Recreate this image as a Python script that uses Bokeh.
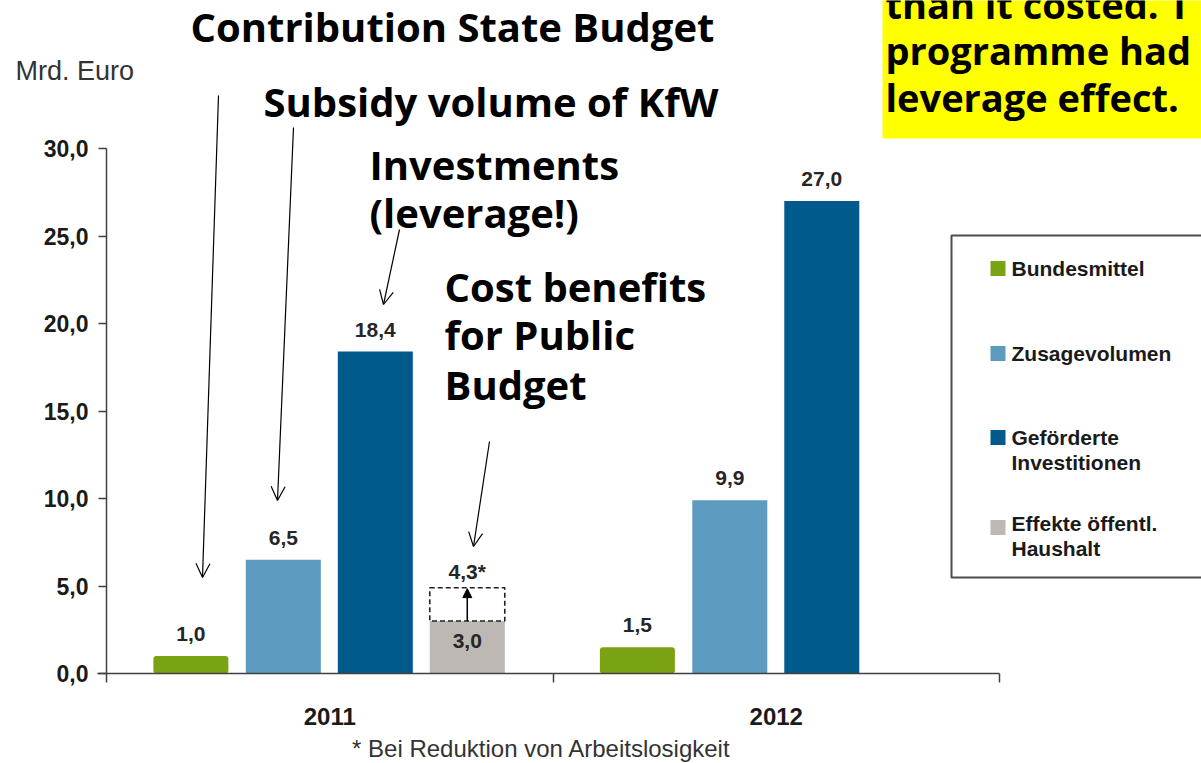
from bokeh.plotting import figure
from bokeh.models import (Range1d, FixedTicker, Label, LabelSet, Arrow, OpenHead,
                          NormalHead, BoxAnnotation, ColumnDataSource, LinearAxis)
from bokeh.core.properties import value
from bokeh.embed import file_html
from bokeh.resources import INLINE

# ---------------- data ----------------
years = ["2011", "2012"]
bundesmittel = [1.0, 1.5]
zusagevolumen = [6.5, 9.9]
investitionen = [18.4, 27.0]
effekte_years = ["2011"]
effekte = [3.0]
effekte_arbeitslosigkeit = [4.3]   # label value
effekte_box_top = [4.9]            # dashed box top as drawn
y_ticks = [0, 5, 10, 15, 20, 25, 30]
y_tick_labels = ["0,0", "5,0", "10,0", "15,0", "20,0", "25,0", "30,0"]
series_names = ["Bundesmittel", "Zusagevolumen", "Geförderte Investitionen", "Effekte öffentl. Haushalt"]
legend_lines = [["Bundesmittel"], ["Zusagevolumen"], ["Geförderte", "Investitionen"], ["Effekte öffentl.", "Haushalt"]]
colors = ["#7AA314", "#5C9BBF", "#005A8C", "#BDB8B3"]

W, H = 1201, 763
# page pixel -> data helpers
def X(px):
    return (px - 106) / 446.5

def Y(py):
    return (673 - py) / 17.5

p = figure(width=W, height=H, output_backend="svg", toolbar_location=None,
           x_range=Range1d(X(0), X(W)), y_range=Range1d(Y(H), Y(0)),
           x_axis_location=None, y_axis_location=None,
           min_border_left=0, min_border_right=0, min_border_top=0, min_border_bottom=0)
p.outline_line_color = None
p.grid.visible = False
p.background_fill_color = "white"
p.border_fill_color = "white"

offsets = [-0.311, -0.104, 0.102, 0.308]
bw = 0.168
LAB_FONT = "21px"

def fmt(v):
    return f"{v:.1f}".replace(".", ",")

series = [bundesmittel, zusagevolumen, investitionen]
for i, vals in enumerate(series):
    xs = [k + 0.5 + offsets[i] for k in range(len(years))]
    src = ColumnDataSource(dict(x=xs, top=vals, lab=[fmt(v) for v in vals]))
    extra = dict(border_radius=3) if i == 0 else {}
    p.vbar(x="x", top="top", width=bw, source=src, fill_color=colors[i], line_color=None, **extra)
    p.add_layout(LabelSet(x="x", y="top", text="lab", source=src, y_offset=15,
                          text_align="center", text_baseline="bottom",
                          text_font=value("Liberation Sans"), text_font_style="bold",
                          text_font_size=LAB_FONT, text_color="#262626"))

# Effekte öffentl. Haushalt (2011 only)
ex = [years.index(y) + 0.5 + offsets[3] for y in effekte_years]
esrc = ColumnDataSource(dict(x=ex, top=effekte, lab=[fmt(v) for v in effekte],
                             top2=effekte_box_top, lab2=[fmt(v) + "*" for v in effekte_arbeitslosigkeit]))
p.vbar(x="x", top="top", width=bw, source=esrc, fill_color=colors[3], line_color=None)
p.add_layout(LabelSet(x="x", y="top", text="lab", source=esrc, y_offset=-20,
                      text_align="center", text_baseline="middle",
                      text_font=value("Liberation Sans"), text_font_style="bold",
                      text_font_size=LAB_FONT, text_color="#262626"))
p.add_layout(LabelSet(x="x", y="top2", text="lab2", source=esrc, y_offset=5,
                      text_align="center", text_baseline="bottom",
                      text_font=value("Liberation Sans"), text_font_style="bold",
                      text_font_size=LAB_FONT, text_color="#262626"))
for xi, b, t in zip(ex, effekte, effekte_box_top):
    p.add_layout(BoxAnnotation(left=xi - bw / 2, right=xi + bw / 2, bottom=b, top=t,
                               fill_color=None, fill_alpha=0, line_color="#222222", line_alpha=1,
                               line_width=1.6, line_dash="5 3"))
    p.add_layout(Arrow(end=NormalHead(size=9, fill_color="black", line_color="black"),
                       x_start=xi, y_start=b, x_end=xi, y_end=t - 0.05,
                       line_color="black", line_width=1.5))

# ---------------- axes (drawn at fixed data locations) ----------------
ya = LinearAxis(fixed_location=0, bounds=(0, 30))
ya.ticker = FixedTicker(ticks=y_ticks, minor_ticks=[])
ya.major_label_overrides = {t: l for t, l in zip(y_ticks, y_tick_labels)}
ya.major_tick_in = 0
ya.major_tick_out = 8
ya.minor_tick_out = 0
ya.axis_line_color = "#404040"
ya.axis_line_width = 1.5
ya.major_tick_line_color = "#404040"
ya.major_tick_line_width = 1.5
ya.major_label_text_font = "Liberation Sans"
ya.major_label_text_font_style = "bold"
ya.major_label_text_font_size = "23px"
ya.major_label_text_color = "#1a1a1a"
ya.major_label_standoff = 10
p.add_layout(ya, "left")

xa = LinearAxis(fixed_location=0, bounds=(X(97), 2))
xa.ticker = FixedTicker(ticks=[0.5, 1.5], minor_ticks=[0, 1, 2])
xa.major_label_overrides = {0.5: years[0], 1.5: years[1]}
xa.major_tick_in = 0
xa.major_tick_out = 0
xa.minor_tick_in = 0
xa.minor_tick_out = 9
xa.minor_tick_line_color = "#404040"
xa.minor_tick_line_width = 1.5
xa.axis_line_color = "#404040"
xa.axis_line_width = 1.5
xa.major_label_text_font = "Liberation Sans"
xa.major_label_text_font_style = "bold"
xa.major_label_text_font_size = "24px"
xa.major_label_text_color = "#1a1a1a"
xa.major_label_standoff = 25
p.add_layout(xa, "below")

# ---------------- texts & annotations ----------------
p.add_layout(Label(x=X(15), y=Y(70), text="Mrd. Euro", text_font="Liberation Sans",
                   text_font_size="27px", text_color="#333333", text_baseline="middle"))
p.add_layout(Label(x=X(541), y=Y(748), text="* Bei Reduktion von Arbeitslosigkeit",
                   text_font="Liberation Sans", text_font_size="24px", text_color="#333333",
                   text_baseline="middle", text_align="center"))

BASE_SHIFT = 14  # rendered alphabetic baseline sits this much lower than requested
notes = [
    ("Contribution State Budget", 190, 40),
    ("Subsidy volume of KfW", 263, 115),
    ("Investments", 369, 178),
    ("(leverage!)", 369, 226),
    ("Cost benefits", 444, 300),
    ("for Public", 444, 348),
    ("Budget", 444, 398),
]
for t, px, py in notes:
    p.add_layout(Label(x=X(px), y=Y(py - BASE_SHIFT), text=t, text_font="Open Sans",
                       text_font_style="bold", text_font_size="40px", text_color="black",
                       text_baseline="alphabetic"))

arrows = [((218, 95), (202, 577)), ((293, 127), (277, 500)),
          ((399, 229), (383, 304)), ((489, 441), (473, 546))]
for (x0, y0), (x1, y1) in arrows:
    p.add_layout(Arrow(end=OpenHead(size=14, line_width=1.2, line_color="black"),
                       x_start=X(x0), y_start=Y(y0), x_end=X(x1), y_end=Y(y1),
                       line_color="black", line_width=1.2))

# yellow callout (cut off at top / right)
p.add_layout(BoxAnnotation(left=X(882), right=X(1260), top=Y(-20), bottom=Y(138),
                           fill_color="#FFFF00", fill_alpha=1, line_color=None))
for t, py in [("than it costed. T", 17), ("programme had", 63), ("leverage effect.", 110)]:
    p.add_layout(Label(x=X(885), y=Y(py - BASE_SHIFT), text=t, text_font="Open Sans",
                       text_font_style="bold", text_font_size="38px", text_color="black",
                       text_baseline="alphabetic"))

# legend box
p.add_layout(BoxAnnotation(left=X(951), right=X(1260), top=Y(235), bottom=Y(577),
                           fill_color="white", fill_alpha=1, line_color="#4d4d4d", line_alpha=1,
                           line_width=2))
sq_y = [268, 353, 437, 527]
line_y = [[268], [353], [437, 462], [523, 548]]
for lines, c, cy, lys in zip(legend_lines, colors, sq_y, line_y):
    p.add_layout(BoxAnnotation(left=X(990), right=X(1005), top=Y(cy - 7.5), bottom=Y(cy + 7.5),
                               fill_color=c, fill_alpha=1, line_color=None))
    for ln, ty in zip(lines, lys):
        p.add_layout(Label(x=X(1011), y=Y(ty), text=ln, text_font="Liberation Sans",
                           text_font_style="bold", text_font_size="21px", text_color="#1a1a1a",
                           text_baseline="middle"))

open("out.html", "w").write(file_html(p, INLINE))
